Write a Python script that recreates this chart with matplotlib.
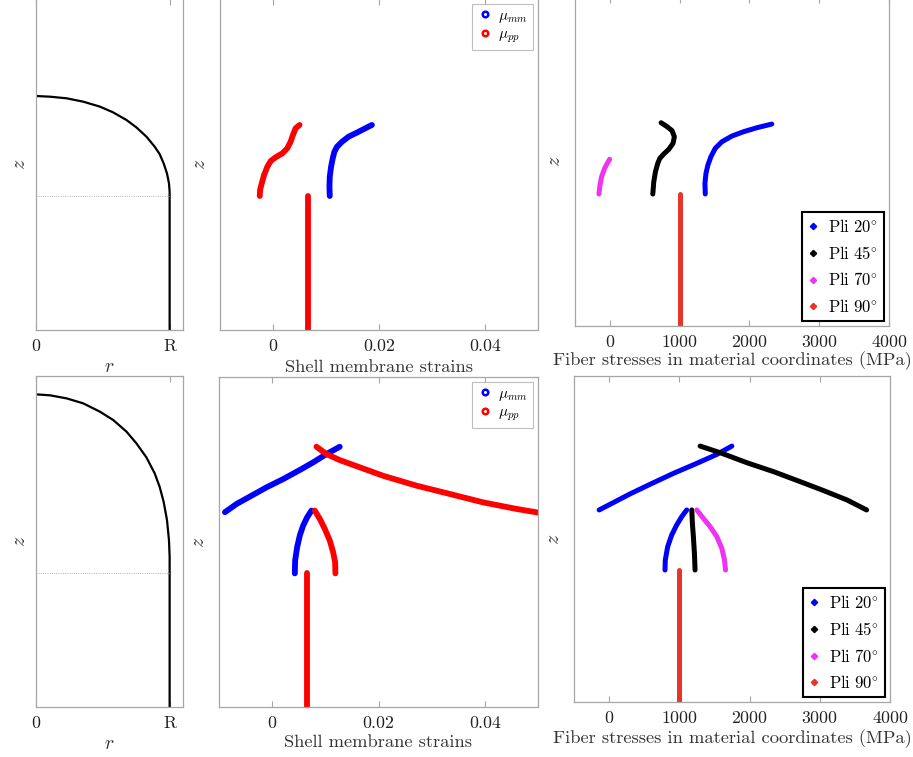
import matplotlib
matplotlib.use("Agg")
import matplotlib.pyplot as plt
import numpy as np

plt.rcParams['font.family'] = ['cmr10', 'DejaVu Serif']
plt.rcParams['mathtext.fontset'] = 'cm'
plt.rcParams['axes.formatter.use_mathtext'] = True

# ---------------- data ----------------
# dome profiles (r, z)
dome1_r = [0.0, 0.104, 0.229, 0.353, 0.478, 0.577, 0.677, 0.751, 0.826, 0.888, 0.925, 0.955, 0.980, 0.995, 1.0, 1.0, 1.0]
dome1_z = [1.746, 1.741, 1.729, 1.704, 1.667, 1.624, 1.567, 1.512, 1.443, 1.368, 1.313, 1.244, 1.169, 1.095, 1.032, 1.0, 0.0]
dome2_r = [0.0, 0.104, 0.229, 0.353, 0.478, 0.577, 0.677, 0.751, 0.826, 0.888, 0.925, 0.955, 0.980, 0.995, 1.0, 1.0, 1.0]
dome2_z = [2.333, 2.326, 2.303, 2.266, 2.204, 2.142, 2.055, 1.968, 1.863, 1.744, 1.644, 1.532, 1.396, 1.246, 1.122, 1.0, 0.0]

# strains, case 1
s1_cyl_x = [0.0066, 0.0066]
s1_cyl_z = [0.0, 1.0]
s1_mm_x = [0.01071, 0.01065, 0.01071, 0.01096, 0.01127, 0.01159, 0.01209, 0.01303, 0.01428, 0.01584, 0.01741, 0.01866]
s1_mm_z = [1.0, 1.070, 1.144, 1.219, 1.281, 1.331, 1.368, 1.405, 1.443, 1.473, 1.505, 1.530]
s1_pp_x = [-0.00250, -0.00244, -0.00212, -0.00168, -0.00106, -0.00043, 0.00051, 0.00176, 0.00270, 0.00332, 0.00376, 0.00426, 0.00501]
s1_pp_z = [1.0, 1.045, 1.095, 1.157, 1.219, 1.261, 1.289, 1.318, 1.356, 1.405, 1.455, 1.505, 1.530]

# strains, case 2
s2_cyl_x = [0.0066, 0.0066]
s2_cyl_z = [0.0, 1.0]
s2_mm_low_x = [0.00426, 0.00432, 0.00470, 0.00520, 0.00583, 0.00658, 0.00739]
s2_mm_low_z = [1.0, 1.097, 1.197, 1.284, 1.358, 1.420, 1.470]
s2_pp_low_x = [0.01190, 0.01184, 0.01146, 0.01084, 0.00990, 0.00896, 0.00802]
s2_pp_low_z = [1.0, 1.085, 1.159, 1.246, 1.333, 1.408, 1.470]
s2_mm_up_x = [-0.00888, -0.00669, -0.00419, -0.00106, 0.00207, 0.00520, 0.00771, 0.01021, 0.01271]
s2_mm_up_z = [1.458, 1.520, 1.575, 1.644, 1.706, 1.774, 1.831, 1.893, 1.948]
s2_pp_up_x = [0.00833, 0.01021, 0.01271, 0.01647, 0.02085, 0.02711, 0.03337, 0.03963, 0.04589, 0.05050]
s2_pp_up_z = [1.948, 1.893, 1.848, 1.794, 1.731, 1.657, 1.595, 1.532, 1.483, 1.452]

# fiber stresses, case 1 (MPa)
f1_90_x = [1000, 1000]
f1_90_z = [0.0, 1.0]
f1_20_x = [1367, 1362, 1377, 1405, 1448, 1510, 1605, 1748, 1915, 2105, 2320]
f1_20_z = [1.0, 1.081, 1.157, 1.220, 1.283, 1.346, 1.396, 1.439, 1.472, 1.502, 1.530]
f1_45_x = [615, 629, 653, 686, 715, 772, 843, 905, 924, 891, 820, 734]
f1_45_z = [1.0, 1.093, 1.169, 1.232, 1.270, 1.303, 1.338, 1.384, 1.434, 1.480, 1.510, 1.540]
f1_70_x = [-157, -142, -119, -76, -38, -4]
f1_70_z = [1.0, 1.068, 1.131, 1.194, 1.232, 1.263]

# fiber stresses, case 2 (MPa)
f2_90_x = [1000, 1000]
f2_90_z = [0.0, 1.0]
f2_20_low_x = [796, 800, 834, 891, 962, 1034, 1105]
f2_20_low_z = [1.0, 1.076, 1.177, 1.265, 1.341, 1.404, 1.455]
f2_45_low_x = [1224, 1215, 1200, 1186, 1177]
f2_45_low_z = [1.0, 1.126, 1.253, 1.354, 1.455]
f2_70_low_x = [1658, 1643, 1605, 1534, 1439, 1343, 1248]
f2_70_low_z = [1.0, 1.076, 1.164, 1.253, 1.328, 1.391, 1.455]
f2_20_up_x = [-142, 58, 296, 581, 915, 1248, 1534, 1748]
f2_20_up_z = [1.455, 1.510, 1.576, 1.649, 1.732, 1.808, 1.876, 1.939]
f2_45_up_x = [1296, 1581, 1962, 2343, 2724, 3058, 3391, 3667]
f2_45_up_z = [1.939, 1.889, 1.813, 1.745, 1.669, 1.601, 1.530, 1.455]

strain_ticks = [0, 0.02, 0.04]
strain_ticklabels = ['0', '0.02', '0.04']
stress_ticks = [0, 1000, 2000, 3000, 4000]
ply_labels = [r'$\mathrm{Pli\ 20}^{\circ}$', r'$\mathrm{Pli\ 45}^{\circ}$',
              r'$\mathrm{Pli\ 70}^{\circ}$', r'$\mathrm{Pli\ 90}^{\circ}$']

# ---------------- style ----------------
W, H = 913, 757
fig = plt.figure(figsize=(W / 100, H / 100), dpi=100)

def pos(x0, y0, x1, y1):
    return [x0 / W, 1 - y1 / H, (x1 - x0) / W, (y1 - y0) / H]

SPINE = '#a6a6a6'
BLUE = '#0000ff'
RED = '#ff0000'
RED2 = '#e8352a'
BLACK = '#000000'
MAG = '#f033f0'
ZMAX = 2.47
TFS = 12.8
LFS = 13.3
LW = 4.2

def style(ax, zmax=ZMAX, ylpad=8):
    for s in ax.spines.values():
        s.set_color(SPINE)
        s.set_linewidth(0.9)
    ax.tick_params(axis='x', direction='in', top=True, bottom=True, length=4,
                   color=SPINE, labelsize=TFS, pad=6, labelcolor='#222222')
    ax.tick_params(axis='y', left=False, right=False, labelleft=False)
    ax.set_ylim(0, zmax)
    ax.set_ylabel('$z$', fontsize=LFS + 1, color='#333333', labelpad=ylpad)

def line(ax, x, z, c, lw=LW):
    ax.plot(x, z, color=c, lw=lw, solid_capstyle='round', solid_joinstyle='round')

# ---------- left column ----------
for row, (dr, dz) in enumerate([(dome1_r, dome1_z), (dome2_r, dome2_z)]):
    if row == 0:
        ax = fig.add_axes(pos(36, -1, 183, 330))
    else:
        ax = fig.add_axes(pos(36, 376, 183, 707))
    style(ax, ylpad=5)
    ax.plot(dr, dz, color='black', lw=1.6, solid_joinstyle='round')
    ax.plot([0, 1], [1, 1], color='#999999', lw=0.6, ls=':')
    ax.set_xlim(0, 1.1)
    ax.set_xticks([0, 1])
    ax.set_xticklabels(['0', 'R'])
    ax.set_xlabel('$r$', fontsize=LFS + 1, color='#333333', labelpad=3)

# ---------- middle column ----------
def strain_legend(ax):
    h1, = ax.plot([], [], ls='none', marker='o', ms=4, mfc='white', mec=BLUE, mew=1.8)
    h2, = ax.plot([], [], ls='none', marker='o', ms=4, mfc='white', mec=RED, mew=1.8)
    leg = ax.legend([h1, h2], [r'$\mu_{mm}$', r'$\mu_{pp}$'], loc='upper right',
                    fontsize=11, frameon=True, fancybox=False, handlelength=1.0,
                    handletextpad=0.4, borderpad=0.3, labelspacing=0.2,
                    borderaxespad=0.35)
    leg.get_frame().set_edgecolor('#b0b0b0')
    leg.get_frame().set_linewidth(0.8)

ax = fig.add_axes(pos(220, -1, 538, 330))
style(ax)
line(ax, s1_mm_x, s1_mm_z, BLUE)
line(ax, s1_pp_x, s1_pp_z, RED)
line(ax, s1_cyl_x, s1_cyl_z, RED)
ax.set_xlim(-0.01, 0.05)
ax.set_xticks(strain_ticks)
ax.set_xticklabels(strain_ticklabels)
ax.set_xlabel('Shell membrane strains', fontsize=LFS, color='#333333', labelpad=4)
strain_legend(ax)

ax = fig.add_axes(pos(219, 377, 538, 707))
style(ax)
line(ax, s2_mm_low_x, s2_mm_low_z, BLUE)
line(ax, s2_pp_low_x, s2_pp_low_z, RED)
line(ax, s2_mm_up_x, s2_mm_up_z, BLUE)
line(ax, s2_pp_up_x, s2_pp_up_z, RED)
line(ax, s2_cyl_x, s2_cyl_z, RED)
ax.set_xlim(-0.01, 0.05)
ax.set_xticks(strain_ticks)
ax.set_xticklabels(strain_ticklabels)
ax.set_xlabel('Shell membrane strains', fontsize=LFS, color='#333333', labelpad=3)
strain_legend(ax)

# ---------- right column ----------
def ply_legend(ax):
    hs = []
    for c in [BLUE, BLACK, MAG, RED2]:
        h, = ax.plot([], [], ls='none', marker='D', ms=3.2, color=c)
        hs.append(h)
    leg = ax.legend(hs, ply_labels, loc='lower right', fontsize=12, frameon=True,
                    fancybox=False, handlelength=0.6, handletextpad=0.6,
                    borderpad=0.35, labelspacing=0.58, borderaxespad=0.3)
    leg.get_frame().set_edgecolor('black')
    leg.get_frame().set_linewidth(1.5)
    leg.get_frame().set_alpha(1)

ax = fig.add_axes(pos(575, -3, 889, 326))
style(ax, zmax=ZMAX * 329 / 326)
line(ax, f1_70_x, f1_70_z, MAG, 3.6)
line(ax, f1_45_x, f1_45_z, BLACK, 3.6)
line(ax, f1_20_x, f1_20_z, BLUE, 3.6)
line(ax, f1_90_x, f1_90_z, RED2, 3.6)
ax.set_xlim(-500, 4000)
ax.set_xticks(stress_ticks)
ax.set_xlabel('Fiber stresses in material coordinates (MPa)', fontsize=LFS,
              color='#333333', labelpad=1)
ply_legend(ax)

ax = fig.add_axes(pos(574, 376, 890, 702))
style(ax)
line(ax, f2_20_low_x, f2_20_low_z, BLUE, 3.6)
line(ax, f2_45_low_x, f2_45_low_z, BLACK, 3.6)
line(ax, f2_70_low_x, f2_70_low_z, MAG, 3.6)
line(ax, f2_20_up_x, f2_20_up_z, BLUE, 3.6)
line(ax, f2_45_up_x, f2_45_up_z, BLACK, 3.6)
line(ax, f2_90_x, f2_90_z, RED2, 3.6)
ax.set_xlim(-500, 4000)
ax.set_xticks(stress_ticks)
ax.set_xlabel('Fiber stresses in material coordinates (MPa)', fontsize=LFS,
              color='#333333', labelpad=2)
ply_legend(ax)

fig.savefig('out.png', dpi=100)
